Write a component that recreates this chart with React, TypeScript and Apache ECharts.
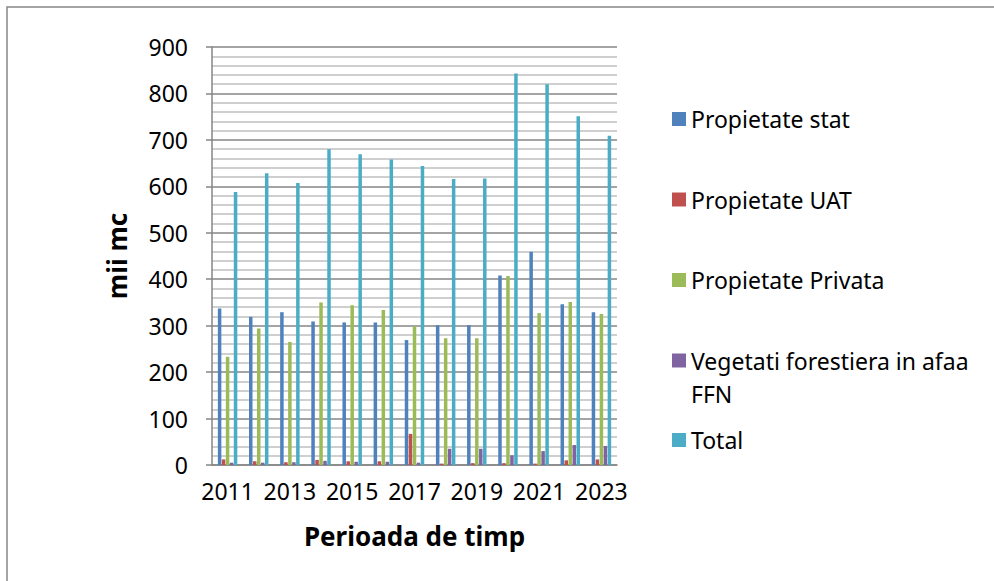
import React, { useEffect, useRef } from "react";
import * as echarts from "echarts";

const years = ["2011","2012","2013","2014","2015","2016","2017","2018","2019","2020","2021","2022","2023"];
const propStat = [337, 319, 329, 309, 307, 307, 269, 301, 301, 408, 459, 346, 329];
const propUAT = [12, 8, 6, 11, 8, 8, 67, 3, 4, 4, 3, 10, 12];
const propPrivata = [233, 294, 265, 350, 344, 334, 299, 273, 273, 407, 327, 351, 325];
const vegetatie = [5, 5, 6, 9, 7, 7, 5, 35, 35, 21, 30, 43, 41];
const total = [588, 628, 607, 680, 669, 658, 644, 616, 617, 843, 820, 751, 709];

const seriesNames = ["Propietate stat", "Propietate UAT", "Propietate Privata", "Vegetati forestiera in afaa FFN", "Total"];
const seriesData = [propStat, propUAT, propPrivata, vegetatie, total];
const colors = ["#4F81BD", "#C0504D", "#9BBB59", "#8064A2", "#4BACC6"];
const legendCenters = [119, 199.5, 280, 360.5, 440];

const FONT = "'Noto Sans', sans-serif";

export default function App() {
  const ref = useRef<HTMLDivElement>(null);
  useEffect(() => {
    if (!ref.current) return;
    const chart = echarts.init(ref.current, null, { renderer: "svg" });
    const legends = seriesNames.map((name, i) => {
      const isVeg = i === 3;
      return {
        data: [name],
        orient: "vertical",
        left: 672,
        top: isVeg ? legendCenters[i] - 49.5 : legendCenters[i] - 12,
        padding: 0,
        itemWidth: 14,
        itemHeight: 14,
        icon: "rect",
        selectedMode: false,
        formatter: isVeg ? () => " \nVegetati forestiera in afaa\nFFN" : undefined,
        textStyle: isVeg
          ? { fontFamily: FONT, fontSize: 23, color: "#000", lineHeight: 33 }
          : { fontFamily: FONT, fontSize: 23, color: "#000", lineHeight: 24 },
      };
    });
    chart.setOption({
      animation: false,
      color: colors,
      graphic: [
        {
          type: "rect",
          shape: { x: 7, y: 7, width: 1000, height: 600 },
          style: { fill: "none", stroke: "#868686", lineWidth: 1.5 },
          silent: true,
        },
      ],
      legend: legends,
      grid: { left: 212, right: 377, top: 47, bottom: 116, containLabel: false },
      xAxis: {
        type: "category",
        data: years,
        name: "Perioada de timp",
        nameLocation: "middle",
        nameGap: 58,
        nameTextStyle: { fontFamily: FONT, fontSize: 26, fontWeight: "bold", color: "#000" },
        axisLine: { lineStyle: { color: "#868686", width: 1.5 } },
        axisTick: { show: false },
        axisLabel: { interval: 1, fontFamily: FONT, fontSize: 23, color: "#000", margin: 14 },
      },
      yAxis: {
        type: "value",
        min: 0,
        max: 900,
        interval: 100,
        name: "mii mc",
        nameLocation: "middle",
        nameRotate: 90,
        nameGap: 82,
        nameTextStyle: { fontFamily: FONT, fontSize: 26, fontWeight: "bold", color: "#000" },
        axisLine: { show: true, lineStyle: { color: "#868686", width: 1.5 } },
        axisTick: { show: true, length: 6, lineStyle: { color: "#868686", width: 1.5 } },
        axisLabel: { fontFamily: FONT, fontSize: 23, color: "#000", margin: 24 },
        splitLine: { show: true, lineStyle: { color: "#868686", width: 1.5 } },
        minorTick: { show: false, splitNumber: 5 },
        minorSplitLine: { show: true, lineStyle: { color: "#BFBFBF", width: 1.5 } },
      },
      series: seriesNames.map((name, i) => ({
        name,
        type: "bar",
        data: seriesData[i],
        barWidth: 3.5,
        barGap: "14%",
        itemStyle: { color: colors[i] },
      })),
    });
    return () => chart.dispose();
  }, []);
  return (
    <div
      ref={ref}
      style={{ position: "fixed", left: 0, top: 0, width: 994, height: 581, background: "#fff" }}
    />
  );
}
